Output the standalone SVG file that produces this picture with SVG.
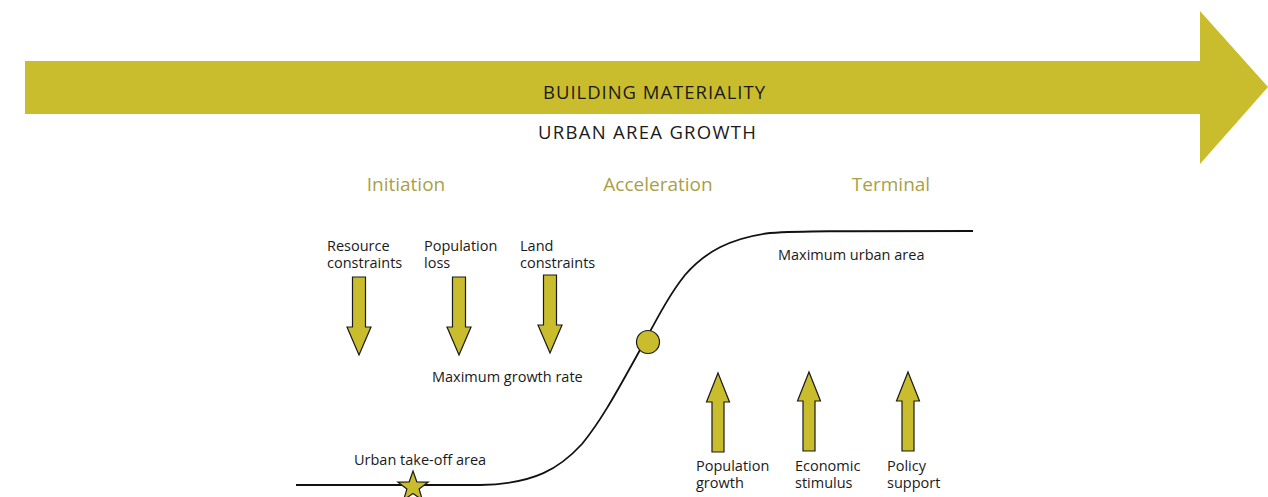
<svg xmlns="http://www.w3.org/2000/svg" width="1268" height="497" viewBox="0 0 1268 497">
  <style>
    .fill { fill: #c9bd2e; }
    .shape { fill: #c9bd2e; stroke: #1a1a1a; stroke-width: 1.2; stroke-linejoin: miter; }
    .lbl { font-family: "Open Sans", "Liberation Sans", sans-serif; font-size: 14.5px; fill: #1a1a1a; }
    .head { font-family: "Open Sans", "Liberation Sans", sans-serif; font-size: 18.5px; fill: #1a1a1a; text-anchor: middle; }
    .stage { font-family: "Open Sans", "Liberation Sans", sans-serif; font-size: 19px; fill: #a99f47; text-anchor: middle; }
    .curve { fill: none; stroke: #111; stroke-width: 1.8; }
  </style>
  <defs>
    <!-- block arrow pointing down, tip at origin -->
    <path id="down" d="M-6.5,-78 L6.5,-78 L6.5,-28 L12,-28 L0,0 L-12,-28 L-6.5,-28 Z"/>
    <!-- block arrow pointing up, tip at origin -->
    <path id="up" d="M0,0 L11.5,29 L6,29 L6,79 L-6,79 L-6,29 L-11.5,29 Z"/>
  </defs>

  <!-- main timeline arrow -->
  <g id="main-arrow">
    <path class="fill" d="M25,61 L1200,61 L1200,11 L1268,87 L1200,164 L1200,114 L25,114 Z"/>
    <text class="head" x="654" y="99" textLength="222" lengthAdjust="spacing">BUILDING MATERIALITY</text>
    <text class="head" x="647" y="139" textLength="218" lengthAdjust="spacing">URBAN AREA GROWTH</text>
  </g>

  <!-- stage headings -->
  <g id="stages">
    <text class="stage" x="406" y="191">Initiation</text>
    <text class="stage" x="658" y="191">Acceleration</text>
    <text class="stage" x="891" y="191">Terminal</text>
  </g>

  <!-- growth curve -->
  <g id="connectors">
    <path class="curve" d="M296,485 L480,485 C535,484 560,468 582,444 C600,422 615,395 630,368 C650,333 665,300 685,275 C705,252 730,238 770,233 C800,231 830,231 973,231"/>
  </g>

  <g id="take-off">
    <polygon class="shape" transform="translate(413,487)" points="0,-16 3.8,-5.2 15.2,-4.9 6.1,2 9.4,13 0,6.5 -9.4,13 -6.1,2 -15.2,-4.9 -3.8,-5.2"/>
    <text class="lbl" x="354" y="465">Urban take-off area</text>
  </g>

  <g id="inflection">
    <circle class="shape" cx="648" cy="342" r="11.5" stroke-width="1.6"/>
    <text class="lbl" x="432" y="382">Maximum growth rate</text>
  </g>

  <g id="max-area">
    <text class="lbl" x="778" y="260">Maximum urban area</text>
  </g>

  <!-- constraints (downward pressure) -->
  <g id="resource-constraints">
    <use href="#down" class="shape" x="359" y="355"/>
    <text class="lbl" x="327" y="251">Resource</text>
    <text class="lbl" x="327" y="268">constraints</text>
  </g>
  <g id="population-loss">
    <use href="#down" class="shape" x="459" y="355"/>
    <text class="lbl" x="424" y="251">Population</text>
    <text class="lbl" x="424" y="268">loss</text>
  </g>
  <g id="land-constraints">
    <use href="#down" class="shape" x="550" y="353"/>
    <text class="lbl" x="520" y="251">Land</text>
    <text class="lbl" x="520" y="268">constraints</text>
  </g>

  <!-- drivers (upward pressure) -->
  <g id="population-growth">
    <use href="#up" class="shape" x="718" y="373"/>
    <text class="lbl" x="696" y="471">Population</text>
    <text class="lbl" x="696" y="488">growth</text>
  </g>
  <g id="economic-stimulus">
    <use href="#up" class="shape" x="809" y="372"/>
    <text class="lbl" x="795" y="471">Economic</text>
    <text class="lbl" x="795" y="488">stimulus</text>
  </g>
  <g id="policy-support">
    <use href="#up" class="shape" x="908" y="372"/>
    <text class="lbl" x="887" y="471">Policy</text>
    <text class="lbl" x="887" y="488">support</text>
  </g>
</svg>
